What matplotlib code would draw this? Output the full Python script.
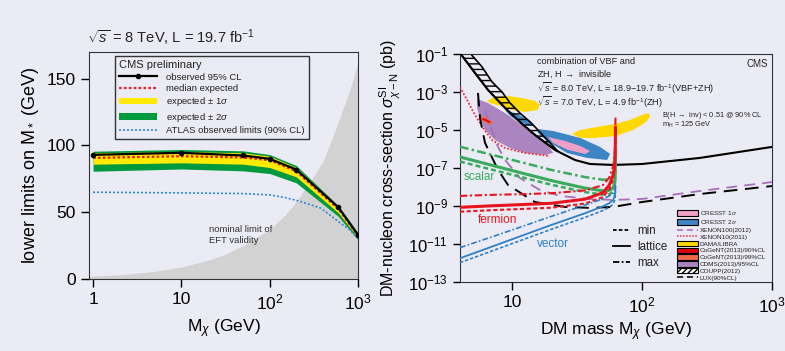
import numpy as np
import matplotlib.pyplot as plt
from matplotlib.lines import Line2D
from matplotlib.patches import Patch

BG = '#ebebf5'
INK = '#222222'

plt.rcParams['font.family'] = ['Liberation Sans', 'DejaVu Sans']
plt.rcParams['mathtext.fontset'] = 'custom'
plt.rcParams['mathtext.rm'] = 'Liberation Sans'
plt.rcParams['mathtext.it'] = 'Liberation Sans:italic'
plt.rcParams['mathtext.bf'] = 'Liberation Sans:bold'
plt.rcParams['text.color'] = INK
plt.rcParams['axes.edgecolor'] = '#333333'

# ---------------- left panel: limits on M* ----------------
mchi = [1, 10, 50, 100, 200, 600, 1000]
observed = [93.0, 94.5, 92.5, 90.0, 82.0, 53.6, 33.0]
expected = [90.7, 92.0, 91.0, 89.0, 80.7, 52.4, 32.5]
exp_1s_up = [94.5, 95.5, 94.5, 92.0, 83.5, 54.0, 34.0]
exp_1s_dn = [86.0, 87.0, 86.0, 83.5, 76.5, 49.5, 31.0]
exp_2s_up = [95.7, 97.0, 96.0, 93.2, 85.0, 54.8, 34.6]
exp_2s_dn = [80.7, 82.4, 81.0, 79.0, 72.0, 46.8, 29.3]

atlas_m = [1, 10, 50, 100, 150, 225, 380, 600, 800, 1000]
atlas_lim = [65, 64.5, 64, 63, 61, 58, 53, 43, 37, 30.5]

eft_m = [0.9, 1, 2, 3, 5, 10, 20, 30, 50, 70, 100, 150, 200, 300, 400, 500, 600, 800, 1000]
eft_lim = [1.9, 2.1, 3.2, 4.2, 5.8, 9, 14, 18, 25, 31, 37, 48, 58, 75, 88, 104, 118, 141, 162]

# ---------------- right panel: DM-nucleon cross section ----------------
# theory curves (Higgs portal), log10(sigma / pb)
hp_mass = [3.98, 6.5, 11.5, 20, 36.5, 50, 56, 60, 61.5, 62.2, 62.5]
scalar_lat = [-6.42, -6.80, -7.24, -7.66, -8.06, -8.20, -8.18, -8.05, -7.85, -7.30, -6.20]
scalar_min = [-6.66, -7.03, -7.46, -7.88, -8.27, -8.40, -8.38, -8.25, -8.05, -7.50, -6.60]
scalar_max = [-5.88, -6.25, -6.68, -7.10, -7.48, -7.62, -7.60, -7.48, -7.30, -6.80, -5.80]
fermion_lat = [-9.07, -9.00, -8.93, -8.86, -8.64, -8.30, -7.90, -7.35, -6.90, -6.00, -4.85]
fermion_min = [-9.30, -9.23, -9.16, -9.09, -8.87, -8.53, -8.13, -7.58, -7.10, -6.30, -5.30]
fermion_max = [-8.47, -8.42, -8.38, -8.33, -8.18, -7.90, -7.50, -6.90, -6.40, -5.50, -4.25]
vector_lat = [-11.75, -11.22, -10.60, -10.00, -9.38, -9.02, -8.85, -8.68, -8.50, -8.30, -8.00]
vector_min = [-11.98, -11.45, -10.83, -10.23, -9.60, -9.24, -9.07, -8.90, -8.70, -8.50, -8.25]
vector_max = [-11.19, -10.70, -10.12, -9.55, -8.95, -8.62, -8.47, -8.35, -8.20, -8.00, -7.75]

# experimental limits
black_m = [3.98, 5.19, 6.53, 8.84, 11.5, 15.0, 21.4, 30.5, 39.8, 59.8, 100, 279, 1000]
black_s = [-0.95, -2.0, -2.89, -3.84, -4.58, -5.26, -6.05, -6.58, -6.79, -6.84, -6.79, -6.47, -5.89]
coupp_up_m = [4.75, 5.88, 7.02, 8.38, 9.66, 11.5, 13.8, 16.4, 19.6, 22.6]
coupp_up_s = [-0.95, -1.68, -2.47, -3.0, -3.58, -4.11, -4.58, -5.11, -5.68, -6.13]

lux_m = [5.47, 5.67, 6.2, 7.8, 9.3, 15, 25.6, 39.8, 60, 100, 279, 1000]
lux_s = [-3.05, -4.37, -5.68, -7.1, -7.89, -8.79, -9.05, -9.1, -9.05, -8.79, -8.37, -7.95]
xe100_m = [6.2, 6.78, 7.67, 8.84, 11.5, 16.4, 23.4, 39.8, 60, 100, 279, 1000]
xe100_s = [-3.95, -4.74, -5.79, -6.58, -7.53, -8.16, -8.47, -8.63, -8.68, -8.63, -8.21, -7.74]
xe10_m = [3.98, 4.51, 5.19, 5.98, 7.02, 8.84, 12.6, 19.6]
xe10_s = [-2.74, -3.42, -4.21, -4.89, -5.53, -5.95, -6.21, -6.37]

# signal regions (outline points, log10 sigma)
cdms_m = [5.38, 6.53, 8.84, 11.9, 15.85, 19.6, 20.7, 17.9, 12.6, 9.66, 7.4, 6.2, 5.67, 5.38]
cdms_s = [-3.37, -3.58, -4.11, -4.74, -5.37, -5.95, -6.21, -6.32, -6.21, -5.95, -5.53, -5.0, -4.37, -3.84]
dama1_m = [6.42, 7.4, 9.31, 11.9, 15.0, 16.4, 15.6, 12.6, 10, 8.09, 6.78]
dama1_s = [-3.47, -3.26, -3.21, -3.32, -3.47, -3.68, -3.95, -4.05, -3.95, -3.74, -3.58]
dama2_m = [28.9, 33.4, 45.1, 62, 80.9, 100, 113, 115, 105, 85.3, 62, 43.5, 33.4]
dama2_s = [-5.21, -5.0, -4.84, -4.68, -4.47, -4.21, -4.11, -4.32, -4.63, -5.0, -5.32, -5.42, -5.42]
cresst2a_m = [8.84, 10.5, 12.6, 14.5, 13.8, 11.5, 9.66]
cresst2a_s = [-3.95, -4.11, -4.37, -4.68, -4.79, -4.58, -4.26]
cresst2b_m = [15.6, 20.7, 33.4, 47.5, 56.8, 53.8, 37.8, 26.5, 18.6, 15.85]
cresst2b_s = [-4.95, -5.05, -5.42, -5.89, -6.26, -6.58, -6.47, -6.21, -5.58, -5.16]
cresst1_m = [18.9, 25.6, 33.4, 39.8, 36.5, 27, 20.7]
cresst1_s = [-5.37, -5.58, -5.84, -6.11, -6.26, -6.05, -5.68]
cogent99_m = [5.57, 6.31, 7.14, 6.9, 6.09, 5.57]
cogent99_s = [-4.26, -4.32, -4.58, -4.74, -4.58, -4.42]
cogent90_m = [5.78, 6.31, 6.9, 6.65, 5.98]
cogent90_s = [-4.37, -4.42, -4.58, -4.63, -4.47]

info_lines = ['combination of VBF and',
              'ZH, H $\\rightarrow$ invisible',
              '$\\sqrt{s}$ = 8.0 TeV, L = 18.9$-$19.7 fb$^{-1}$(VBF+ZH)',
              '$\\sqrt{s}$ = 7.0 TeV, L = 4.9 fb$^{-1}$(ZH)']
info_y = [0.968, 0.912, 0.852, 0.790]
br_lines = ['B(H $\\rightarrow$ inv) < 0.51 @ 90% CL', 'm$_\\mathrm{H}$ = 125 GeV']


def pb(logs):
    return np.power(10.0, np.array(logs))


fig = plt.figure(figsize=(7.85, 3.51), dpi=100, facecolor=BG)
ax1 = fig.add_axes([0.1134, 0.2051, 0.3427, 0.6467], facecolor=BG)
ax2 = fig.add_axes([0.586, 0.1966, 0.3975, 0.6496], facecolor=BG)

# left panel
ax1.fill_between(eft_m, 0, eft_lim, color='#d2d2d2', lw=0, zorder=1)
ax1.fill_between(mchi, exp_2s_dn, exp_2s_up, color='#009a3e', lw=0, zorder=2)
ax1.fill_between(mchi, exp_1s_dn, exp_1s_up, color='#ffea00', lw=0, zorder=3)
ax1.plot(mchi, expected, color='#e4202a', ls=(0, (1.2, 1.0)), lw=1.6, zorder=4)
ax1.plot(atlas_m, atlas_lim, color='#2f8ad0', ls=(0, (1.2, 1.2)), lw=1.2, zorder=4)
ax1.plot(mchi, observed, color='k', lw=1.6, marker='o', ms=3, zorder=5)

ax1.set_xscale('log')
ax1.set_xlim(0.9, 1000)
ax1.set_ylim(0, 170)
ax1.set_xticks([1, 10, 100, 1000])
ax1.set_xticklabels(['1', '10', '$10^2$', '$10^3$'])
ax1.set_yticks([0, 50, 100, 150])
ax1.minorticks_off()
ax1.tick_params(labelsize=12.5, length=6, width=1, direction='out')
ax1.set_xlabel(r'M$_\chi$ (GeV)', fontsize=12.5)
ax1.set_ylabel(r'lower limits on M$_*$ (GeV)', fontsize=13)

handles1 = [
    Line2D([], [], color='k', lw=1.6, marker='o', ms=3),
    Line2D([], [], color='#e4202a', ls=(0, (1.2, 1.0)), lw=1.6),
    Patch(facecolor='#ffea00', edgecolor='none'),
    Patch(facecolor='#009a3e', edgecolor='none'),
    Line2D([], [], color='#2f8ad0', ls=(0, (1.2, 1.2)), lw=1.2),
]
labels1 = ['observed 95% CL', 'median expected', r'expected $\pm$ 1$\sigma$',
           r'expected $\pm$ 2$\sigma$', 'ATLAS observed limits (90% CL)']
leg1 = ax1.legend(handles1, labels1, title='CMS preliminary', alignment='left',
                  loc='upper left', bbox_to_anchor=(0.097, 0.982), borderaxespad=0,
                  fontsize=6.8, title_fontsize=8, handlelength=4.0, handletextpad=0.9,
                  labelspacing=0.25, borderpad=0.45, fancybox=False, framealpha=1,
                  facecolor=BG, edgecolor='#333333')
leg1.get_frame().set_linewidth(1.0)
leg1.set_zorder(6)

ax1.text(0.446, 0.194, 'nominal limit of\nEFT validity', transform=ax1.transAxes,
         fontsize=6.8, va='center', ha='left', color='#333333', zorder=6)
fig.text(87 / 785, 1 - 38 / 351, r'$\sqrt{s}$ = 8 TeV, L = 19.7 fb$^{-1}$',
         fontsize=10.5, va='center', ha='left')

# right panel
ax2.fill(cdms_m, pb(cdms_s), color='#ab85bf', lw=0, zorder=1)
ax2.fill(dama1_m, pb(dama1_s), color='#ffd800', lw=0, zorder=1)
ax2.fill(dama2_m, pb(dama2_s), color='#ffd800', lw=0, zorder=1)
ax2.fill(cresst2a_m, pb(cresst2a_s), color='#3d86c6', lw=0, zorder=1.2)
ax2.fill(cresst2b_m, pb(cresst2b_s), color='#3d86c6', lw=0, zorder=1.2)
ax2.fill(cresst1_m, pb(cresst1_s), color='#f0a0c8', lw=0, zorder=1.3)
ax2.fill(cogent99_m, pb(cogent99_s), color='#f06a48', lw=0, zorder=1.4)
ax2.fill(cogent90_m, pb(cogent90_s), color='#e00010', lw=0, zorder=1.5)

coupp_m = list(coupp_up_m) + [m for m in black_m if m <= 21.4][::-1]
coupp_s = list(coupp_up_s) + [s for m, s in zip(black_m, black_s) if m <= 21.4][::-1]
plt.rcParams['hatch.linewidth'] = 1.0
ax2.fill(coupp_m, pb(coupp_s), facecolor='none', edgecolor='k', hatch='---', lw=1.2, zorder=2)

ax2.plot(xe10_m, pb(xe10_s), color='#e8303a', ls=(0, (1, 1)), lw=1.3, zorder=3)
ax2.plot(xe100_m, pb(xe100_s), color='#a870b8', ls=(0, (6, 4)), lw=1.3, zorder=3)
ax2.plot(lux_m, pb(lux_s), color='k', ls=(0, (7, 4)), lw=1.4, zorder=3)
ax2.plot(black_m, pb(black_s), color='k', lw=1.5, zorder=3)

ls_min = (0, (2, 1.2))
ls_max = (0, (3.5, 1.3, 1, 1.3))
theory = [
    ('#3aaa5c', scalar_lat, scalar_min, scalar_max, 2.2, 1.8),
    ('#e8141e', fermion_lat, fermion_min, fermion_max, 2.2, 1.5),
    ('#2d80c8', vector_lat, vector_min, vector_max, 1.3, 1.2),
]
for col, lat, lo, hi, lw_lat, lw_band in theory:
    ax2.plot(hp_mass, pb(lo), color=col, ls=ls_min, lw=lw_band, zorder=4)
    ax2.plot(hp_mass, pb(hi), color=col, ls=ls_max, lw=lw_band, zorder=4)
    ax2.plot(hp_mass, pb(lat), color=col, lw=lw_lat, zorder=4)

ax2.set_xscale('log')
ax2.set_yscale('log')
ax2.set_xlim(3.98, 1000)
ax2.set_ylim(1e-13, 1e-1)
ax2.set_xticks([10, 100, 1000])
ax2.set_xticklabels(['10', '$10^2$', '$10^3$'])
ax2.set_yticks([10.0 ** e for e in range(-13, 0, 2)])
ax2.minorticks_off()
ax2.tick_params(axis='x', labelsize=12.5, length=6, width=1, direction='out')
ax2.tick_params(axis='y', labelsize=12, length=5, width=1, direction='out')
ax2.set_xlabel(r'DM mass M$_\chi$ (GeV)', fontsize=12.5)
ax2.set_ylabel(r'DM-nucleon cross-section $\sigma^{\mathrm{SI}}_{\chi-\mathrm{N}}$ (pb)',
               fontsize=11.5)

for line, yy in zip(info_lines, info_y):
    ax2.text(0.247, yy, line, transform=ax2.transAxes,
             fontsize=6.6, va='center', ha='left')
ax2.text(0.987, 0.956, 'CMS', transform=ax2.transAxes, fontsize=7, va='center', ha='right')
for i, line in enumerate(br_lines):
    ax2.text(0.647, 0.732 - 0.044 * i, line, transform=ax2.transAxes,
             fontsize=5.3, va='center', ha='left')
ax2.text(0.01, 0.46, 'scalar', transform=ax2.transAxes, fontsize=8.5, color='#3aaa5c', va='center')
ax2.text(0.058, 0.272, 'fermion', transform=ax2.transAxes, fontsize=8.5, color='#e8141e', va='center')
ax2.text(0.247, 0.167, 'vector', transform=ax2.transAxes, fontsize=8.5, color='#2d80c8', va='center')

style_handles = [Line2D([], [], color='k', ls=ls_min, lw=1.3),
                 Line2D([], [], color='k', lw=1.3),
                 Line2D([], [], color='k', ls=ls_max, lw=1.3)]
leg_style = ax2.legend(style_handles, ['min', 'lattice', 'max'], loc='upper left',
                       bbox_to_anchor=(0.49, 0.25), borderaxespad=0, borderpad=0,
                       frameon=False, fontsize=8.3, handlelength=1.5, handletextpad=0.6,
                       labelspacing=0.35)
ax2.add_artist(leg_style)

exp_handles = [
    Patch(facecolor='#f0a0c8', edgecolor='k', lw=0.8),
    Patch(facecolor='#3d86c6', edgecolor='k', lw=0.8),
    Line2D([], [], color='#a870b8', ls=(0, (4, 2.5)), lw=1.1),
    Line2D([], [], color='#e8303a', ls=(0, (1, 1)), lw=1.1),
    Patch(facecolor='#ffd800', edgecolor='k', lw=0.8),
    Patch(facecolor='#e00010', edgecolor='k', lw=0.8),
    Patch(facecolor='#f06a48', edgecolor='k', lw=0.8),
    Patch(facecolor='#ab85bf', edgecolor='k', lw=0.8),
    Patch(facecolor='white', edgecolor='k', hatch='//////', lw=0.8),
    Line2D([], [], color='k', ls=(0, (4, 2.5)), lw=1.1),
]
exp_labels = ['CRESST 1$\\sigma$', 'CRESST 2$\\sigma$', 'XENON100(2012)', 'XENON10(2011)',
              'DAMA/LIBRA', 'CoGeNT(2013)/90%CL', 'CoGeNT(2013)/99%CL',
              'CDMS(2013)/95%CL', 'COUPP(2012)', 'LUX(90%CL)']
ax2.legend(exp_handles, exp_labels, loc='lower right', bbox_to_anchor=(0.985, 0.0),
           borderaxespad=0, borderpad=0.2, frameon=False, fontsize=4.6,
           handlelength=3.2, handleheight=0.9, handletextpad=0.3, labelspacing=0.15)

fig.savefig('out.png', dpi=100, facecolor=BG)
